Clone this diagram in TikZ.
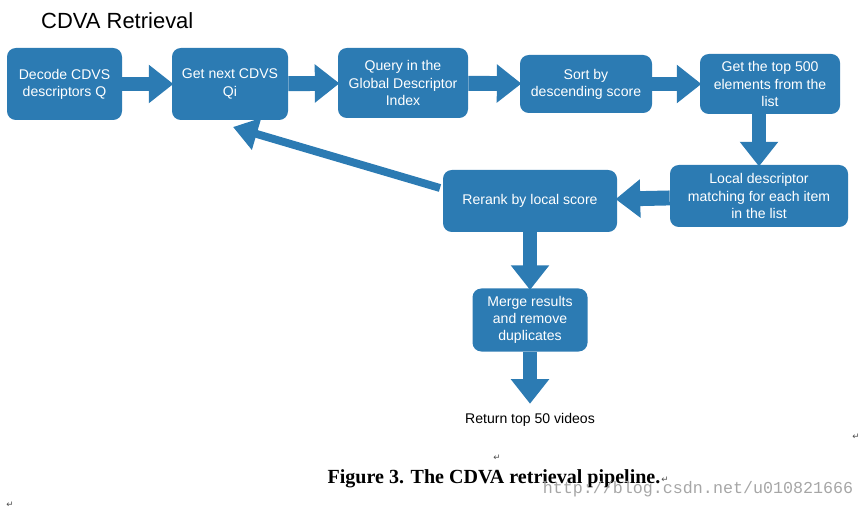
\documentclass[tikz,border=0pt]{standalone}
\usepackage{fontspec}
\setmainfont{Liberation Sans}
\newfontfamily\serifcap{Liberation Serif}
\newfontfamily\monowm{Liberation Mono}
\newfontfamily\dejavu{DejaVu Sans}
\usetikzlibrary{arrows.meta}
\definecolor{stepblue}{HTML}{2C7BB3}
\tikzset{%
    stage/.style={%
        fill=stepblue, draw=none, rounded corners=5pt, text=white,
        align=center, font=\fontsize{8}{9.8}\selectfont, inner sep=0pt
    },
    flow/.style={%
        draw=stepblue, line width=8.5pt,
        -{Triangle[width=21pt,length=14pt]}, shorten >=-1pt
    },
    back/.style={%
        draw=stepblue, line width=4.5pt,
        -{Triangle[width=18pt,length=14pt]}
    },
    retmark/.style={font=\dejavu\fontsize{5}{6}\selectfont, text=black!70}
}

\begin{document}
\begin{tikzpicture}[x=0.02cm,y=-0.02cm]
    \useasboundingbox (0,0) rectangle (864,509);
    \node[font=\fontsize{12.5}{14}\selectfont, anchor=west] (title) at (35,21) {CDVA Retrieval};
    % top row
    \node[stage, minimum width=115*0.02cm, minimum height=72*0.02cm] (decode) at (64.5,84) {Decode CDVS\\descriptors Q};
    \node[stage, minimum width=116*0.02cm, minimum height=72*0.02cm] (next) at (230,84) {Get next CDVS\\Qi};
    \node[stage, minimum width=130*0.02cm, minimum height=70*0.02cm] (query) at (403,83) {Query in the\\Global Descriptor\\Index};
    \node[stage, minimum width=132*0.02cm, minimum height=58*0.02cm] (sort) at (586,84) {Sort by\\descending score};
    \node[stage, minimum width=140*0.02cm, minimum height=60*0.02cm] (top) at (770,84) {Get the top 500\\elements from the\\list};
    % second row
    \node[stage, minimum width=178*0.02cm, minimum height=62*0.02cm] (local) at (759,196) {Local descriptor\\matching for each item\\in the list};
    \node[stage, minimum width=174*0.02cm, minimum height=62*0.02cm] (rerank) at (530,201) {Rerank by local score};
    \node[stage, minimum width=115*0.02cm, minimum height=63*0.02cm] (merge) at (530,320) {Merge results\\and remove\\duplicates};
    \node[font=\fontsize{8}{10}\selectfont] (ret) at (530,420) {Return top 50 videos};
    \coordinate (retin) at (530,402);
    % connectors
    \draw[flow] (decode) -- (next);
    \draw[flow] (next) -- (query);
    \draw[flow] (query) -- (sort);
    \draw[flow] (sort) -- (top);
    \draw[flow] (top.south -| local) -- (local);
    \draw[flow] (local) -- (rerank);
    \draw[flow] (rerank) -- (merge);
    \draw[flow] (merge) -- (retin);
    \coordinate (bk) at (440,188);
    \coordinate (bktip) at (233,127);
    \draw[back] (bk) -- (bktip);
    % caption
    \node[font=\serifcap\bfseries\fontsize{11.4}{13}\selectfont] (cap) at (494,479) {Figure 3. The CDVA retrieval pipeline.};
    \node[font=\monowm\fontsize{9.5}{11}\selectfont, text=black!35] (wm) at (698,489) {http://blog.csdn.net/u010821666};
    \node[retmark] (m1) at (856,437) {↵};
    \node[retmark] (m2) at (497,458) {↵};
    \node[retmark] (m3) at (665,480) {↵};
    \node[retmark] (m4) at (10,505) {↵};
\end{tikzpicture}
\end{document}
